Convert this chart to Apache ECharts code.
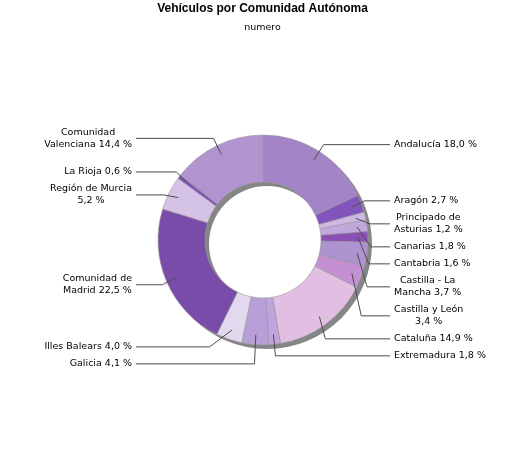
<!DOCTYPE html>
<html>
<head>
<meta charset="utf-8">
<script src="https://cdn.jsdelivr.net/npm/echarts@6/dist/echarts.min.js"></script>
<style>
  html, body { margin: 0; padding: 0; background: #fff; }
  #chart { width: 525px; height: 450px; }
</style>
</head>
<body>
<div id="chart"></div>
<script>
const categories = [
  "Andalucía", "Aragón", "Principado de Asturias", "Canarias", "Cantabria",
  "Castilla - La Mancha", "Castilla y León", "Cataluña", "Extremadura", "Galicia",
  "Illes Balears", "Comunidad de Madrid", "Región de Murcia", "La Rioja", "Comunidad Valenciana"
];
const shares = [18.0, 2.7, 1.2, 1.8, 1.6, 3.7, 3.4, 14.9, 1.8, 4.1, 4.0, 22.5, 5.2, 0.6, 14.4];
// words kept on the first line of the label (0 = single line, -1 = number on its own line)
const breakAfter = [0, 0, 2, 0, 0, 3, -1, 0, 0, 0, 0, 2, -1, 0, 1];
const colors = [
  "#a384c6", "#8255bd", "#cdb8e3", "#c0a8dc", "#8c4fb8",
  "#ae93d1", "#c490d3", "#e2bfe2", "#c2a3de", "#b89fd8",
  "#e3d9ef", "#7a4ca9", "#d5c3e7", "#8354b8", "#b093cf"
];

const CX = 263, CY = 240, R_IN = 58, R_OUT = 105;

function labelText(i) {
  const num = shares[i].toFixed(1).replace(".", ",") + " %";
  const words = categories[i].split(" ");
  const b = breakAfter[i];
  if (b === 0) return categories[i] + " " + num;
  if (b === -1) return categories[i] + "\n" + num;
  return words.slice(0, b).join(" ") + "\n" + words.slice(b).join(" ") + " " + num;
}

// push line ends out to two columns and start the lines inside the ring
function placeLabel(p) {
  const pts = p.labelLinePoints.map((pt) => pt.slice());
  const rect = p.labelRect;
  const right = pts[2][0] > CX;
  const dx = pts[0][0] - CX, dy = pts[0][1] - CY;
  const d = Math.sqrt(dx * dx + dy * dy) || 1;
  pts[0] = [CX + dx / d * (R_OUT - 10), CY + dy / d * (R_OUT - 10)];
  const endX = right ? 390 : 136;
  pts[2][0] = endX;
  if (right ? pts[1][0] > endX - 6 : pts[1][0] < endX + 6) pts[1][0] = endX + (right ? -6 : 6);
  return {
    x: right ? endX + 4 + rect.width / 2 : endX - 4 - rect.width / 2,
    align: "center",
    labelLinePoints: pts
  };
}

function pieSeries(z, overlay) {
  return {
    type: "pie",
    z: z,
    silent: overlay,
    center: [CX, CY],
    radius: [R_IN, R_OUT],
    startAngle: 90,
    clockwise: true,
    avoidLabelOverlap: true,
    itemStyle: overlay
      ? { color: "rgba(0,0,0,0)", borderWidth: 0 }
      : { borderColor: "#9a9a9a", borderWidth: 0.6 },
    label: {
      show: true,
      position: "outside",
      fontFamily: "DejaVu Sans",
      fontSize: 9.5,
      color: overlay ? "rgba(0,0,0,0)" : "#000",
      lineHeight: 12,
      padding: [1.5, 0, 1.5, 0],
      formatter: (p) => labelText(p.dataIndex)
    },
    labelLine: {
      length: 8,
      length2: 22,
      lineStyle: { color: "#4d4d4d", width: 1, opacity: overlay ? 1 : 0 }
    },
    labelLayout: placeLabel,
    data: categories.map((name, i) => ({
      name: name,
      value: shares[i],
      itemStyle: overlay ? {} : { color: colors[i] }
    }))
  };
}

const chart = echarts.init(document.getElementById("chart"));
chart.setOption({
  animation: false,
  title: {
    text: "Vehículos por Comunidad Autónoma",
    subtext: "numero",
    left: "center",
    top: 0,
    padding: [3, 5],
    itemGap: 8,
    textStyle: { fontFamily: "Liberation Sans", fontSize: 12, fontWeight: "bold", color: "#000" },
    subtextStyle: { fontFamily: "DejaVu Sans", fontSize: 9.5, color: "#000" }
  },
  series: [
    {
      type: "pie",
      silent: true,
      z: 1,
      center: [CX + 4, CY + 4],
      radius: [R_IN, R_OUT],
      label: { show: false },
      labelLine: { show: false },
      itemStyle: { color: "#858585" },
      data: [1]
    },
    pieSeries(2, false),
    pieSeries(3, true)
  ]
});
</script>
</body>
</html>
